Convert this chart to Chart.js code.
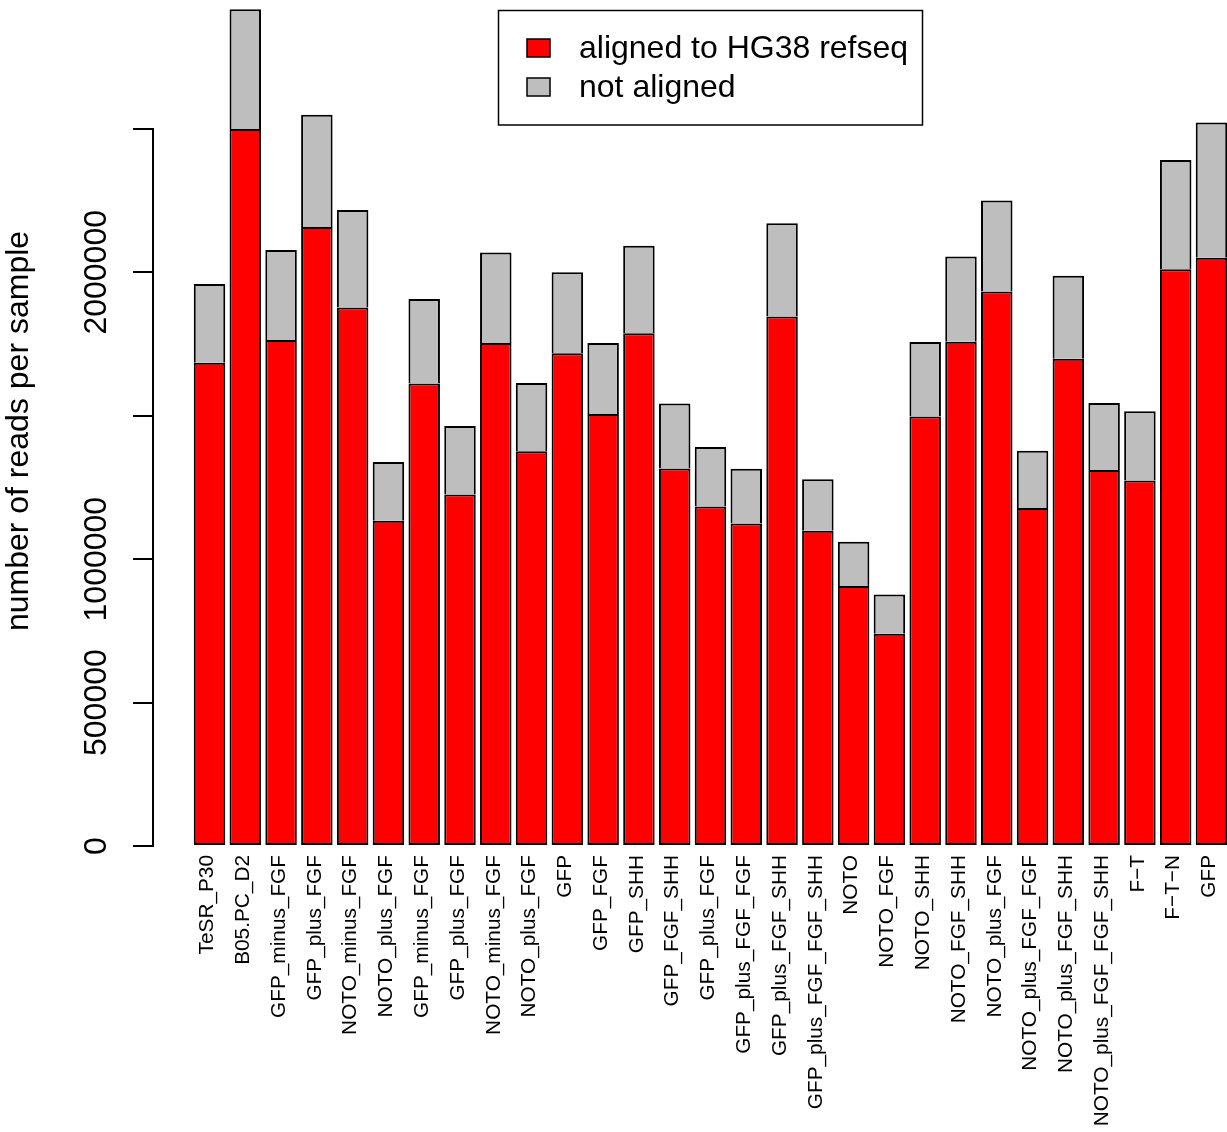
<!DOCTYPE html>
<html>
<head>
<meta charset="utf-8">
<script src="https://cdn.jsdelivr.net/npm/chart.js@4.4.1/dist/chart.umd.min.js"></script>
<style>
body{margin:0;background:#fff;}
#wrap{width:1227px;height:1132px;}
</style>
</head>
<body>
<div id="wrap"><canvas id="readsChart" width="1227" height="1132"></canvas></div>
<script>
/* =========================
   DATA
========================= */
var sampleNames = [
"TeSR_P30","B05.PC_D2","GFP_minus_FGF","GFP_plus_FGF","NOTO_minus_FGF",
"NOTO_plus_FGF","GFP_minus_FGF","GFP_plus_FGF","NOTO_minus_FGF","NOTO_plus_FGF",
"GFP","GFP_FGF","GFP_SHH","GFP_FGF_SHH","GFP_plus_FGF",
"GFP_plus_FGF_FGF","GFP_plus_FGF_SHH","GFP_plus_FGF_FGF_SHH","NOTO","NOTO_FGF",
"NOTO_SHH","NOTO_FGF_SHH","NOTO_plus_FGF","NOTO_plus_FGF_FGF","NOTO_plus_FGF_SHH",
"NOTO_plus_FGF_FGF_SHH","F\u2212T","F\u2212T\u2212N","GFP"
];

var alignedReads = [
1685000,2500000,1764000,2158000,1877000,
1134000,1612000,1225000,1754000,1376000,
1718000,1506000,1788000,1316000,1184000,
1124000,1846000,1099000,906000,740000,
1497000,1758000,1933000,1178000,1699000,
1311000,1274000,2011000,2051000
];

var notAlignedReads = [
274000,417000,314000,391000,340000,
205000,295000,239000,315000,238000,
282000,248000,305000,227000,207000,
191000,325000,180000,155000,137000,
260000,297000,317000,200000,289000,
233000,242000,381000,471000
];

var seriesLabels = ["aligned to HG38 refseq","not aligned"];

// R dropped the 1500000 and 2500000 labels (no room), ticks stay
var yTicks = [0,500000,1000000,1500000,2000000,2500000];
var yTickLabels = ["0","500000","1000000","","2000000",""];

var FONT = "'Liberation Sans', Arial, Helvetica, sans-serif";
Chart.defaults.font.family = FONT;
Chart.defaults.color = "#000";

function toPoints(values){
var pts = [];
for(var i=0;i<values.length;i++){
pts.push({x:i, y:values[i]});
}
return pts;
}

/* =========================
   PLUGINS
========================= */
// axis line only over the tick range, like base R axis()
var axisLinePlugin = {
id:"axisLine",
afterDraw:function(chart){
var ys = chart.scales.y;
var ctx = chart.ctx;
ctx.save();
ctx.strokeStyle = "#000";
ctx.lineWidth = 2;
ctx.beginPath();
ctx.moveTo(ys.right, ys.getPixelForValue(yTicks[0]) + 1);
ctx.lineTo(ys.right, ys.getPixelForValue(yTicks[yTicks.length-1]) - 1);
ctx.stroke();
ctx.restore();
}
};

// boxed legend in the top middle
var boxLegendPlugin = {
id:"boxLegend",
afterDraw:function(chart){
var ctx = chart.ctx;
var sets = chart.data.datasets;
ctx.save();
ctx.strokeStyle = "#000";
ctx.lineWidth = 1.5;
ctx.strokeRect(498.5, 10.5, 424, 114.5);
ctx.font = "32px " + FONT;
ctx.textBaseline = "middle";
for(var i=0;i<sets.length;i++){
var cy = 48 + i*39;
ctx.fillStyle = sets[i].backgroundColor;
ctx.fillRect(527, cy-9, 23, 18);
ctx.strokeRect(527, cy-9, 23, 18);
ctx.fillStyle = "#000";
ctx.fillText(sets[i].label, 579, cy + 1);
}
ctx.restore();
}
};

/* =========================
   CHART
========================= */
var ctx = document.getElementById("readsChart").getContext("2d");

new Chart(ctx,{
type:"bar",
data:{
datasets:[{
label:seriesLabels[0],
data:toPoints(alignedReads),
backgroundColor:"#ff0000",
borderColor:"#000000",
borderWidth:2,
borderSkipped:false,
barPercentage:0.88,
categoryPercentage:1,
clip:false
},{
label:seriesLabels[1],
data:toPoints(notAlignedReads),
backgroundColor:"#bebebe",
borderColor:"#000000",
borderWidth:2,
borderSkipped:"bottom",
barPercentage:0.88,
categoryPercentage:1,
clip:false
}]
},
options:{
responsive:false,
animation:false,
devicePixelRatio:1,
layout:{padding:{top:16,left:0,right:0,bottom:0}},
plugins:{
legend:{display:false},
tooltip:{enabled:false}
},
scales:{
x:{
type:"linear",
stacked:true,
offset:false,
min:-1.579,
max:28.434,
grid:{display:false, drawTicks:false},
border:{display:false},
afterBuildTicks:function(scale){
scale.ticks = sampleNames.map(function(n,i){ return {value:i}; });
},
afterFit:function(scale){
scale.height = 286;
// no extra room for rotated end labels, plot runs to the edge
scale.paddingLeft = 0;
scale.paddingRight = 0;
},
ticks:{
autoSkip:false,
minRotation:90,
maxRotation:90,
padding:9,
labelOffset:-2,
color:"#000",
font:{size:20.8},
callback:function(value, index){
return sampleNames[index];
}
}
},
y:{
type:"linear",
stacked:true,
min:0,
max:2893584,
border:{display:false},
grid:{
display:true,
drawOnChartArea:false,
drawTicks:true,
tickLength:20,
lineWidth:2,
color:"#000",
tickColor:"#000"
},
afterBuildTicks:function(scale){
scale.ticks = yTicks.map(function(v){ return {value:v}; });
},
afterFit:function(scale){
scale.width = 153;
},
ticks:{
autoSkip:false,
minRotation:90,
maxRotation:90,
crossAlign:"center",
padding:-26,
color:"#000",
font:{size:32},
callback:function(value){
var k = yTicks.indexOf(value);
return k < 0 ? "" : yTickLabels[k];
}
},
title:{
display:true,
text:"number of reads per sample",
color:"#000",
font:{size:32},
padding:{top:0,bottom:0}
}
}
}
},
plugins:[axisLinePlugin, boxLegendPlugin]
});
</script>
</body>
</html>
